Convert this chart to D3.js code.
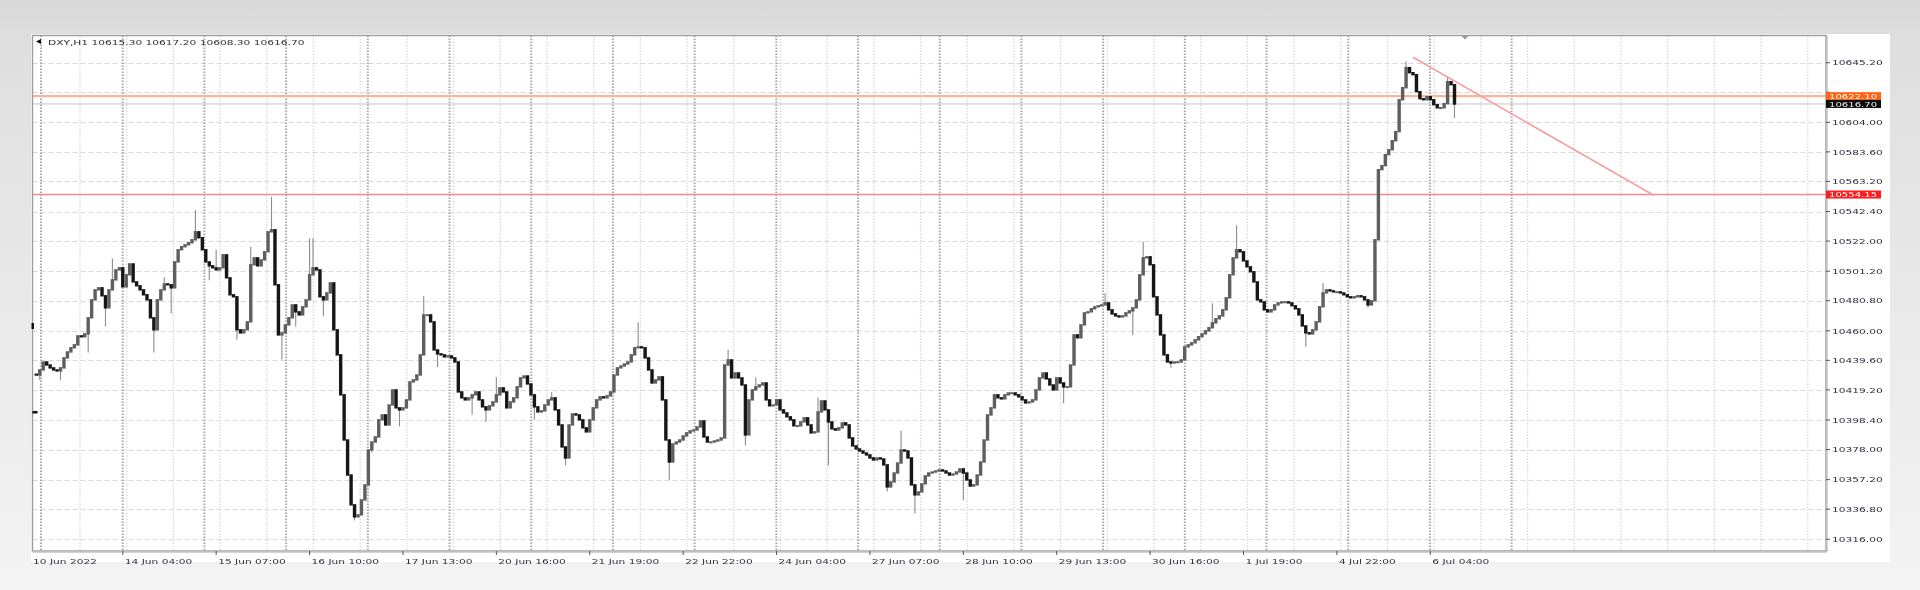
<!DOCTYPE html>
<html><head><meta charset="utf-8">
<script src="https://cdn.jsdelivr.net/npm/d3@7"></script>
<style>
html,body{margin:0;padding:0;width:1920px;height:590px;overflow:hidden;}
body{background:linear-gradient(180deg,#d8d8d8 0%,#dfdfdf 8%,#ebebeb 60%,#f3f3f3 100%);}
svg{display:block;}
text{font-family:"DejaVu Sans",sans-serif;}
</style></head><body>
<svg id="c" width="1920" height="590"></svg>
<script>
// ---- data (DXY, H1) ----
const symbolTitle = "DXY,H1";
const headerOHLC = ["10615.30", "10617.20", "10608.30", "10616.70"];
const firstOpen = 10430.0;
const closes = [
10429.5,10433.0,10438.5,10436.4,10434.4,10433.0,10432.3,10434.4,10441.3,10445.4,
10448.3,10450.3,10456.5,10455.9,10457.9,10469.0,10481.4,10488.3,10489.7,10484.2,
10475.9,10488.3,10495.2,10502.1,10503.5,10490.4,10498.7,10506.2,10493.8,10491.1,
10488.3,10484.9,10481.4,10469.0,10460.7,10481.4,10488.3,10492.4,10491.8,10489.7,
10507.6,10516.0,10518.1,10519.4,10520.8,10522.9,10528.4,10524.3,10516.0,10507.6,
10504.9,10503.5,10502.1,10503.5,10512.5,10496.6,10484.9,10483.5,10460.7,10458.6,
10460.7,10466.2,10505.6,10510.4,10504.9,10509.0,10514.6,10528.4,10529.8,10491.8,
10457.2,10458.6,10464.1,10469.0,10477.9,10473.1,10471.0,10476.6,10481.4,10498.7,
10503.5,10502.1,10483.5,10481.4,10486.2,10493.1,10460.7,10443.4,10415.8,10384.6,
10360.4,10339.8,10331.5,10332.9,10343.2,10353.6,10377.7,10383.2,10386.7,10398.5,
10401.9,10395.0,10408.8,10419.2,10406.8,10405.4,10406.8,10412.3,10424.7,10426.1,
10429.5,10443.4,10471.0,10471.0,10466.2,10446.8,10444.1,10443.4,10442.0,10442.7,
10441.3,10438.5,10417.8,10413.7,10412.3,10413.7,10415.8,10417.8,10412.3,10407.5,
10405.4,10408.2,10410.9,10415.8,10420.6,10417.8,10406.8,10410.9,10413.7,10421.3,
10427.5,10428.8,10423.3,10415.8,10407.5,10404.0,10404.7,10408.8,10412.3,10413.7,
10405.4,10395.0,10379.8,10372.2,10395.0,10402.6,10401.9,10398.5,10393.0,10390.2,
10398.5,10406.8,10412.3,10414.4,10413.7,10415.1,10417.8,10429.5,10434.4,10435.7,
10437.1,10438.5,10443.4,10448.3,10448.9,10448.3,10441.3,10433.0,10424.0,10426.1,
10428.2,10412.3,10384.6,10369.4,10381.9,10383.2,10384.6,10387.4,10389.5,10390.9,
10391.5,10393.6,10397.8,10386.7,10383.2,10383.2,10383.9,10384.6,10386.0,10436.4,
10439.9,10427.5,10430.9,10427.5,10422.6,10388.1,10412.3,10419.2,10421.3,10422.6,
10424.0,10412.3,10408.2,10408.8,10412.3,10405.4,10403.3,10400.6,10398.5,10394.4,
10394.4,10397.1,10399.9,10395.0,10389.5,10390.2,10404.0,10411.6,10405.4,10397.1,
10392.3,10391.5,10393.0,10396.4,10395.0,10386.0,10380.5,10378.4,10377.0,10375.6,
10374.3,10372.2,10370.8,10372.2,10371.5,10367.4,10352.2,10355.6,10361.8,10368.7,
10377.7,10377.0,10372.2,10353.6,10346.7,10348.7,10354.3,10359.8,10361.8,10362.5,
10363.2,10363.9,10363.2,10361.8,10360.4,10361.1,10362.5,10364.6,10361.8,10357.0,
10352.8,10353.6,10360.4,10369.4,10384.6,10401.9,10406.8,10415.8,10413.7,10413.0,
10415.8,10417.1,10417.1,10415.8,10414.4,10412.3,10410.2,10410.9,10412.3,10419.2,
10427.5,10430.9,10426.8,10422.6,10419.2,10427.5,10424.0,10421.3,10421.3,10436.4,
10457.2,10455.2,10464.1,10472.4,10473.1,10475.2,10476.6,10477.3,10477.9,10479.3,
10474.5,10471.7,10470.3,10469.6,10470.3,10472.4,10473.8,10475.9,10481.4,10498.7,
10510.4,10511.1,10505.6,10483.5,10471.0,10457.2,10443.4,10438.5,10437.8,10438.5,
10438.5,10439.9,10448.9,10450.3,10451.7,10453.8,10455.9,10457.9,10460.0,10462.1,
10465.5,10468.3,10470.3,10474.5,10482.8,10498.7,10510.4,10516.0,10514.6,10508.3,
10504.2,10500.8,10493.8,10481.4,10480.0,10474.5,10473.1,10474.5,10477.9,10479.3,
10480.0,10480.0,10479.3,10477.3,10475.2,10471.0,10463.4,10458.6,10457.9,10460.7,
10466.2,10476.6,10486.2,10488.3,10487.6,10486.9,10486.9,10486.2,10484.9,10483.5,
10482.8,10483.5,10484.2,10483.5,10481.4,10477.9,10480.7,10522.9,10571.3,10574.1,
10581.7,10585.1,10591.3,10597.6,10619.6,10627.9,10641.8,10638.3,10636.9,10625.2,
10620.3,10619.6,10621.7,10619.6,10616.2,10614.1,10614.1,10616.9,10632.1,10630.0,10616.7
];
// notable wick extremes: [bar index, price]
const wickHighs = [[22,10510],[37,10497],[46,10543.5],[52,10516],[62,10518],[68,10552.5],[79,10524],[80,10524],
  [112,10484],[133,10428],[149,10418],[174,10466],[200,10447],[208,10428],[226,10414],[250,10391],
  [309,10486],[320,10521.5],[340,10479],[347,10533],[372,10493],[396,10646],[408,10635]];
const wickLows = [[1,10426],[7,10426],[15,10445],[20,10463],[34,10445],[39,10472],[50,10495],[58,10453.8],
  [71,10440],[75,10463],[83,10470],[92,10329],[97,10376],[105,10394],[116,10435],[126,10402],[130,10397],
  [144,10398.5],[153,10367],[183,10357],[205,10381],[229,10367],[246,10349],[254,10334],[268,10343],
  [297,10410],[317,10457],[328,10434.5],[367,10449],[385,10476],[410,10607]];
const yTickValues = [10645.20,10624.80,10604.00,10583.60,10563.20,10542.40,10522.00,10501.20,10480.80,
  10460.00,10439.60,10419.20,10398.40,10378.00,10357.20,10336.80,10316.00];
const firstDateLabel = "10 Jun 2022";
const xTickIndex = [25,52,79,106,133,160,187,214,241,268,295,322,349,376,403];
const xTickLabels = ["14 Jun 04:00","15 Jun 07:00","16 Jun 10:00","17 Jun 13:00","20 Jun 16:00","21 Jun 19:00",
  "22 Jun 22:00","24 Jun 04:00","27 Jun 07:00","28 Jun 10:00","29 Jun 13:00","30 Jun 16:00","1 Jul 19:00",
  "4 Jul 22:00","6 Jul 04:00"];
const levelNames = ["resistance","support"];
const levelValues = [10622.10, 10554.15];
const levelLabels = ["10622.10", "10554.15"];
const trendStart = [398, 10649.0];
const trendEnd = [467.7, 10553.5];
const lastPrice = 10616.70;
const lastPriceLabel = "10616.70";

// ---- layout ----
const L = 32.5, T = 35.5, R = 1826, B = 551;
const svg = d3.select("#c");
const defs = svg.append("defs");
defs.append("filter").attr("id","soft").attr("x","-5%").attr("y","-5%").attr("width","110%").attr("height","110%")
  .append("feGaussianBlur").attr("stdDeviation",0.6);
defs.append("filter").attr("id","softt")
  .append("feGaussianBlur").attr("stdDeviation",0.3);
defs.append("clipPath").attr("id","plot").append("rect").attr("x",L).attr("y",T).attr("width",R-L).attr("height",B-T);

const x = d3.scaleLinear().domain([0, 410]).range([36.3, 1454.5]);
const y = d3.scaleLinear().domain([10316, 10645.2]).range([539.3, 62.7]);

// white panel
svg.append("rect").attr("x",31).attr("y",34).attr("width",1859).attr("height",528).attr("fill","#fff");

const grid = svg.append("g").attr("clip-path","url(#plot)");
// horizontal dashed grid
grid.selectAll(".hg").data(yTickValues).join("line")
  .attr("x1",L).attr("x2",R).attr("y1",d=>Math.round(y(d))+0.5).attr("y2",d=>Math.round(y(d))+0.5)
  .attr("stroke","#d9d9d9").attr("stroke-dasharray","5,3").attr("stroke-width",1);
// vertical grid: light lines every 13.5 bars, dark lines every 23.62 bars
const lightIdx = d3.range(12.63, x.invert(R), 13.5);
const darkIdx = d3.range(1.36, x.invert(1515), 23.62);
grid.selectAll(".vl").data(lightIdx).join("line")
  .attr("x1",d=>x(d)).attr("x2",d=>x(d)).attr("y1",T).attr("y2",B)
  .attr("stroke","#d9d9d9").attr("stroke-dasharray","1.5,1.5").attr("stroke-width",1.3);
grid.selectAll(".vd").data(darkIdx).join("line")
  .attr("x1",d=>x(d)).attr("x2",d=>x(d)).attr("y1",T).attr("y2",B)
  .attr("stroke","#a9a9a9").attr("stroke-dasharray","1.5,1.5").attr("stroke-width",2);

// levels, bid line, trendline
const lv = svg.append("g").attr("clip-path","url(#plot)").attr("filter","url(#soft)");
lv.append("line").attr("x1",L).attr("x2",R).attr("y1",y(lastPrice)).attr("y2",y(lastPrice))
  .attr("stroke","#c4c4c4").attr("stroke-width",1);
lv.selectAll(".lvl").data(levelValues).join("line")
  .attr("x1",L).attr("x2",R).attr("y1",d=>y(d)).attr("y2",d=>y(d))
  .attr("stroke",(d,i)=>i===0?"#fbb49a":"#f48a8a").attr("stroke-width",(d,i)=>i===0?2.2:1.6);
lv.append("line").attr("x1",x(trendStart[0])).attr("y1",y(trendStart[1]))
  .attr("x2",x(trendEnd[0])).attr("y2",y(trendEnd[1])).attr("stroke","#f4a0a0").attr("stroke-width",1.6);

// candles
const hiMap = new Map(wickHighs), loMap = new Map(wickLows);
const bars = closes.map((c,i)=>{
  const o = i===0 ? firstOpen : closes[i-1];
  let h = Math.max(o,c), l = Math.min(o,c);
  if (hiMap.has(i)) h = Math.max(h, hiMap.get(i));
  if (loMap.has(i)) l = Math.min(l, loMap.get(i));
  return {i,o,h,l,c};
});
const cg = svg.append("g").attr("clip-path","url(#plot)").attr("filter","url(#soft)");
cg.selectAll(".wk").data(bars).join("line")
  .attr("x1",d=>x(d.i)).attr("x2",d=>x(d.i)).attr("y1",d=>y(d.h)).attr("y2",d=>y(d.l))
  .attr("stroke","#8c8c8c").attr("stroke-width",1.1);
cg.selectAll(".bd").data(bars).join("rect")
  .attr("x",d=>x(d.i)-1.7).attr("width",3.4)
  .attr("y",d=>Math.min(y(d.o),y(d.c))-0.7)
  .attr("height",d=>Math.max(2, Math.abs(y(d.o)-y(d.c))+1.4))
  .attr("fill",d=>d.c>=d.o?"#5e5e5e":"#151515");

// frame
svg.append("rect").attr("x",L).attr("y",T).attr("width",R-L).attr("height",B-T)
  .attr("fill","none").attr("stroke","#9c9c9c").attr("stroke-width",1.4);
svg.append("line").attr("x1",R+1).attr("x2",R+1).attr("y1",T).attr("y2",B+1).attr("stroke","#c4c4c4").attr("stroke-width",1.5);
svg.append("line").attr("x1",L).attr("x2",R+1).attr("y1",B+1).attr("y2",B+1).attr("stroke","#c4c4c4").attr("stroke-width",1.5);

// small chart-object markers
svg.append("path").attr("d",`M${1461},${T} L${1469},${T} L${1465},${T+4} Z`).attr("fill","#9a9a9a");
svg.append("rect").attr("x",L-1).attr("y",323).attr("width",2.5).attr("height",6).attr("fill","#111");
svg.append("rect").attr("x",L).attr("y",411).attr("width",5).attr("height",2.5).attr("fill","#111");

// text helpers
const tg = svg.append("g").attr("filter","url(#softt)");
function label(g, tx, ty, s, fill, size){
  return g.append("text").attr("transform",`translate(${tx},${ty}) scale(1.4,1)`)
    .attr("font-size",size||7.6).attr("fill",fill||"#2e2e3c").text(s);
}

// header
tg.append("path").attr("d","M36,41.5 L41,39 L41,44 Z").attr("fill","#111");
label(tg, 48, 44.5, symbolTitle + "  " + headerOHLC.join(" "));

// y axis ticks and labels
const priceBoxes = [
  {v:levelValues[0], t:levelLabels[0], bg:"#ff6418", fg:"#fff"},
  {v:lastPrice, t:lastPriceLabel, bg:"#101010", fg:"#e8e8e8"},
  {v:levelValues[1], t:levelLabels[1], bg:"#ff1c1c", fg:"#fff"}
];
yTickValues.forEach(v=>{
  const yy = y(v);
  tg.append("line").attr("x1",R).attr("x2",R+4).attr("y1",yy).attr("y2",yy).attr("stroke","#555");
  const hidden = priceBoxes.some(p=>Math.abs(y(p.v)-yy)<8);
  if(!hidden) label(tg, 1832, yy+2.7, v.toFixed(2));
});
priceBoxes.forEach(p=>{
  const yy = y(p.v);
  tg.append("rect").attr("x",R).attr("y",yy-4).attr("width",55).attr("height",8).attr("fill",p.bg);
  label(tg, 1829, yy+2.6, p.t, p.fg, 7.2);
});

// x axis labels
label(tg, 33, 563.5, firstDateLabel);
xTickIndex.forEach((idx,k)=>{
  const xx = x(idx);
  tg.append("line").attr("x1",xx).attr("x2",xx).attr("y1",B).attr("y2",B+4).attr("stroke","#555");
  label(tg, xx+2, 563.5, xTickLabels[k]);
});
</script>
</body></html>
